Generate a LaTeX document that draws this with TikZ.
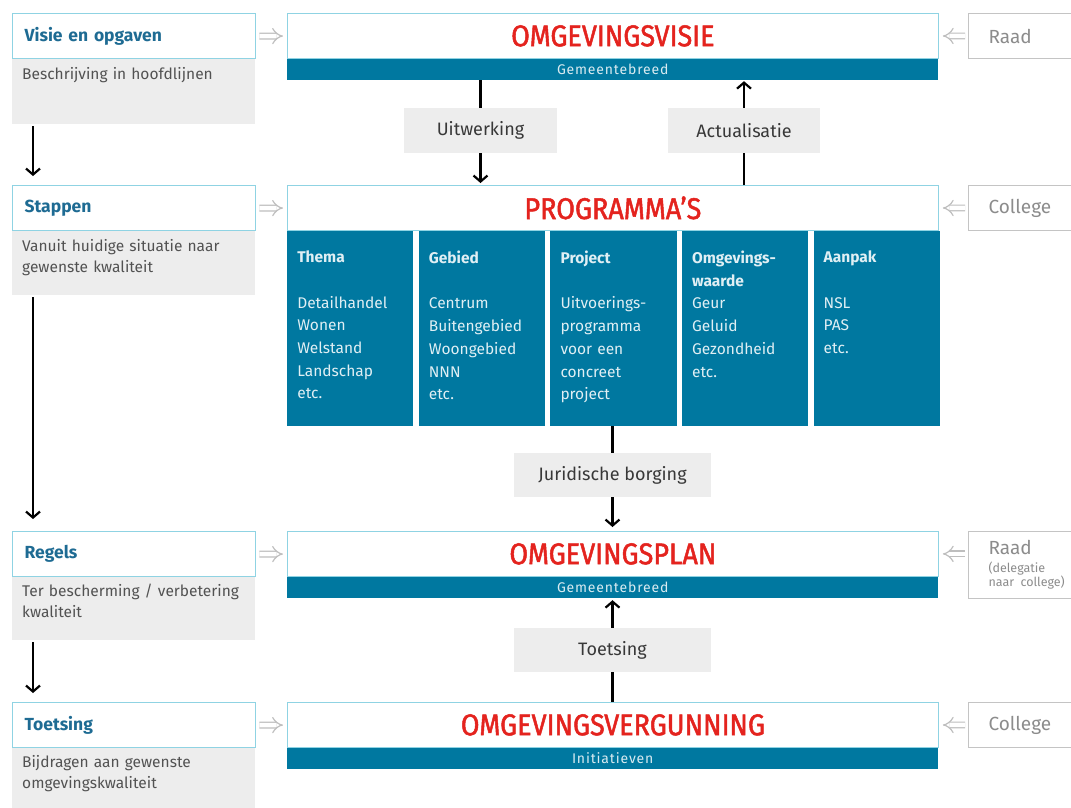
\documentclass[tikz,border=0pt]{standalone}
\usepackage{fontspec}
\setmainfont{Fira Sans}
\newfontfamily\titelfont[FakeStretch=0.9,FakeBold=1.6]{Fira Sans}
\newfontfamily\bandfont[LetterSpace=6]{Fira Sans}
\usetikzlibrary{arrows,arrows.meta,positioning}
\definecolor{blauw}{HTML}{0078A0}
\definecolor{rand}{HTML}{8FD3E3}
\definecolor{kopblauw}{HTML}{1E6B93}
\definecolor{vlak}{HTML}{EDEDED}
\definecolor{rood}{HTML}{E4231E}
\definecolor{grijstekst}{HTML}{8C8C8C}
\definecolor{grijsrand}{HTML}{C4C4C4}
\definecolor{pijlgrijs}{HTML}{BEBEBE}
\tikzset{
  kop/.style={draw=rand,line width=1.3pt,fill=white,anchor=north west,minimum width=243,minimum height=45,
    inner xsep=12pt,text width=219pt,align=left,text=kopblauw,font=\bfseries\fontsize{17.5}{20}\selectfont},
  omschr/.style={fill=vlak,anchor=north west,minimum width=243,inner xsep=10pt,inner ysep=9pt,
    text width=223pt,align=left,text=black!68,font=\fontsize{15.5}{21}\selectfont},
  titel/.style={draw=rand,line width=0.8pt,fill=white,anchor=north west,minimum width=651,minimum height=45,
    text=rood,font=\titelfont\fontsize{30}{32}\selectfont},
  band/.style={fill=blauw,anchor=north west,minimum width=651,minimum height=21,inner sep=0pt,
    text=white!85!blauw,font=\bandfont\fontsize{14}{16}\selectfont},
  kolom/.style={fill=blauw,anchor=north west,minimum width=126.2,minimum height=195,inner xsep=10pt,
    inner ysep=20pt,text width=106pt,align=left,text=white!88!blauw,font=\fontsize{15.5}{22.7}\selectfont},
  tussen/.style={fill=vlak,minimum height=45,text=black!78,font=\fontsize{18}{21}\selectfont},
  orgaan/.style={draw=grijsrand,line width=1pt,fill=white,anchor=north west,minimum width=120,minimum height=45,
    inner xsep=20pt,text width=90pt,align=left,text=grijstekst,font=\fontsize{19}{22}\selectfont},
  pijl/.style={-{Straight Barb[length=6pt,width=14pt]},line width=2.2pt},
  lijn/.style={line width=2.2pt},
  dubbel/.style={draw=pijlgrijs,double,double distance=4.5pt,line width=1.2pt,-Implies,shorten >=4pt,shorten <=3pt}
}
\begin{document}
\begin{tikzpicture}[x=1pt,y=-1pt]
\useasboundingbox (0,0) rectangle (1071,807);
% linker kolom
\node (visietxt) [omschr] at (12,58) {\parbox[t][48pt][t]{223pt}{Beschrijving in hoofdlijnen}};
\node (visiekop) [kop] at (12,13) {Visie en opgaven};
\node (staptxt) [omschr] at (12,230) {\parbox[t][47pt][t]{223pt}{Vanuit huidige situatie naar\\gewenste kwaliteit}};
\node (stapkop) [kop] at (12,185) {Stappen};
\node (regeltxt) [omschr] at (12,575) {\parbox[t][47pt][t]{223pt}{Ter bescherming / verbetering\\kwaliteit}};
\node (regelkop) [kop] at (12,531) {Regels};
\node (toetstxt) [omschr] at (12,746) {\parbox[t][48pt][t]{223pt}{Bijdragen aan gewenste\\omgevingskwaliteit}};
\node (toetskop) [kop] at (12,702) {Toetsing};
%
\draw[pijl,shorten <=2pt,shorten >=9pt] ([xshift=21]visietxt.south west) -- ([xshift=21]stapkop.north west);
\draw[pijl,shorten <=2pt,shorten >=12pt] ([xshift=21]staptxt.south west) -- ([xshift=21]regelkop.north west);
\draw[pijl,shorten <=2pt,shorten >=9pt] ([xshift=21]regeltxt.south west) -- ([xshift=21]toetskop.north west);
% midden
\node (visie) [titel] at (287,13) {OMGEVINGSVISIE};
\node (visieband) [band] at (visie.south west) {Gemeentebreed};
\node (uitw) [tussen,minimum width=153] at (480.5,130.5) {Uitwerking};
\node (actu) [tussen,minimum width=152] at (744,130.5) {Actualisatie};
\node (prog) [titel] at (287,185) {PROGRAMMA’S};
\node (thema) [kolom] at (prog.south west) {\parbox[t][155pt][t]{106pt}{\textbf{Thema}\\[22.7pt]Detailhandel\\Wonen\\Welstand\\Landschap\\etc.}};
\node (gebied) [kolom,right=5pt of thema] {\parbox[t][155pt][t]{106pt}{\textbf{Gebied}\\[22.7pt]Centrum\\Buitengebied\\Woongebied\\NNN\\etc.}};
\node (project) [kolom,right=5pt of gebied] {\parbox[t][155pt][t]{106pt}{\textbf{Project}\\[22.7pt]Uitvoerings-\\programma\\voor een\\concreet\\project}};
\node (waarde) [kolom,right=5pt of project] {\parbox[t][155pt][t]{106pt}{\textbf{Omgevings-}\\\textbf{waarde}\\Geur\\Geluid\\Gezondheid\\etc.}};
\node (aanpak) [kolom,right=5pt of waarde] {\parbox[t][155pt][t]{106pt}{\textbf{Aanpak}\\[22.7pt]NSL\\PAS\\etc.}};
\node (jur) [tussen,minimum width=197,minimum height=44] at (612.5,475) {Juridische borging};
\node (plan) [titel] at (287,531) {OMGEVINGSPLAN};
\node (planband) [band] at (plan.south west) {Gemeentebreed};
\node (toets) [tussen,minimum width=197,minimum height=44] at (612.5,650) {Toetsing};
\node (verg) [titel] at (287,702) {OMGEVINGSVERGUNNING};
\node (vergband) [band] at (verg.south west) {Initiatieven};
%
\draw[lijn] (visieband.south -| uitw) -- (uitw);
\draw[pijl,shorten >=2pt] (uitw) -- (prog.north -| uitw);
\draw[lijn] (prog.north -| actu) -- (actu);
\draw[pijl,shorten >=1pt] (actu) -- (visieband.south -| actu);
\draw[lijn] (thema.south -| jur) -- (jur);
\draw[pijl,shorten >=4pt] (jur) -- (plan.north -| jur);
\draw[lijn] (verg.north -| toets) -- (toets);
\draw[pijl,shorten >=2pt] (toets) -- (planband.south -| toets);
% rechter kolom
\node (raad1) [orgaan] at (968,13) {Raad};
\node (college1) [orgaan] at (968,185) {College};
\node (raad2) [orgaan,minimum height=67] at (968,531) {Raad\\[-4pt]\parbox[t]{90pt}{\fontsize{12.5}{14}\selectfont(delegatie\\naar college)}};
\node (college2) [orgaan] at (968,702) {College};
%
\draw[dubbel] (visiekop) -- (visie);
\draw[dubbel] (stapkop) -- (prog);
\draw[dubbel] (regelkop) -- (plan);
\draw[dubbel] (toetskop) -- (verg);
\draw[dubbel] (raad1) -- (visie);
\draw[dubbel] (college1) -- (prog);
\draw[dubbel] (raad2.west |- plan.east) -- (plan.east);
\draw[dubbel] (college2) -- (verg);
\end{tikzpicture}
\end{document}
